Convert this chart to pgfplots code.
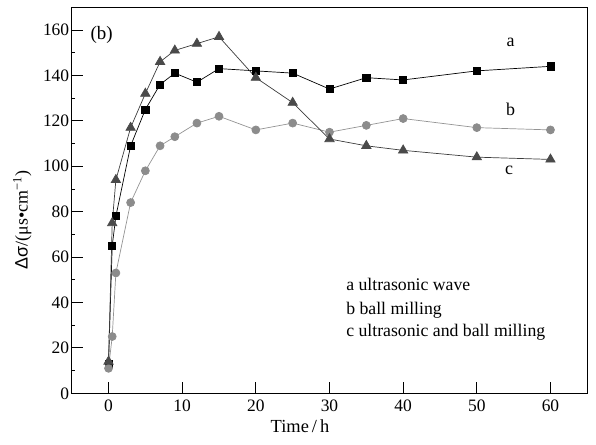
\documentclass[border=0pt]{standalone}
\usepackage{fontspec}
\setmainfont{Liberation Serif}
\newfontfamily\sansf{Liberation Sans}
\usepackage{pgfplots}
\pgfplotsset{compat=1.18}
\definecolor{triC}{HTML}{4A4A4A}
\definecolor{triL}{HTML}{3C3C3C}
\definecolor{cirC}{HTML}{8C8C8C}
\definecolor{cirL}{HTML}{939393}
\begin{document}
\begin{tikzpicture}
\begin{axis}[
  scale only axis,
  width=515.6bp, height=386bp,
  xmin=-5, xmax=65, ymin=0, ymax=170,
  xtick={0,10,...,60}, ytick={0,20,...,160},
  minor y tick num=1,
  xtick pos=bottom, ytick pos=left,
  tick align=inside,
  major tick length=11bp, minor tick length=3bp,
  tick style={black, line width=0.8pt},
  axis line style={black, line width=0.8pt},
  /pgf/number format/assume math mode=true,
  tick label style={font=\fontsize{17.5}{17.5}\selectfont},
  xticklabel style={yshift=-3bp},
  yticklabel style={xshift=1bp},
  xlabel={Time\,/\,h},
  xlabel style={at={(axis cs:26,-14.6)}, anchor=center, font=\fontsize{18.5}{18.5}\selectfont},
  ylabel={{\sansf Δσ}/(μs•cm\textsuperscript{−1})},
  ylabel style={at={(axis cs:-11.7,76.3)}, anchor=center, rotate=0, font=\fontsize{18}{18}\selectfont},
  clip=false,
]
\coordinate (sw) at (rel axis cs:0,0);
% a: ultrasonic wave
\addplot[black, line width=0.7pt, mark=square*, mark size=3.6bp, mark options={fill=black, draw=black}]
coordinates {(0,13) (0.5,65) (1,78) (3,109) (5,125) (7,136) (9,141) (12,137) (15,143) (20,142) (25,141) (30,134) (35,139) (40,138) (50,142) (60,144)};
% b: ball milling
\addplot[cirL, line width=0.7pt, mark=*, mark size=4bp, mark options={fill=cirC, draw=cirC}]
coordinates {(0,11) (0.5,25) (1,53) (3,84) (5,98) (7,109) (9,113) (12,119) (15,122) (20,116) (25,119) (30,115) (35,118) (40,121) (50,117) (60,116)};
% c: ultrasonic and ball milling
\addplot[triL, line width=0.7pt, mark=triangle*, mark size=5.4bp, mark options={fill=triC, draw=triC}]
coordinates {(0,14) (0.5,75) (1,94) (3,117) (5,132) (7,146) (9,151) (12,154) (15,157) (20,139) (25,128) (30,112) (35,109) (40,107) (50,104) (60,103)};
\node[anchor=west, font=\fontsize{19}{19}\selectfont] at (axis cs:-2.9,158) {(b)};
\node[font=\fontsize{18}{18}\selectfont] at (axis cs:54.6,154.5) {a};
\node[font=\fontsize{18}{18}\selectfont] at (axis cs:54.6,125.1) {b};
\node[font=\fontsize{18}{18}\selectfont] at (axis cs:54.4,98.4) {c};
\node[anchor=base west, inner sep=0pt, font=\fontsize{17.8}{17.8}\selectfont] at (axis cs:32.25,45.2) {a ultrasonic wave};
\node[anchor=base west, inner sep=0pt, font=\fontsize{17.8}{17.8}\selectfont] at (axis cs:32.25,34.9) {b ball milling};
\node[anchor=base west, inner sep=0pt, font=\fontsize{17.8}{17.8}\selectfont] at (axis cs:32.25,25.2) {c ultrasonic and ball milling};
\end{axis}
\path[use as bounding box] (sw) ++(-71.7bp,-51.7bp) rectangle ++(596bp,445bp);
\end{tikzpicture}
\end{document}
